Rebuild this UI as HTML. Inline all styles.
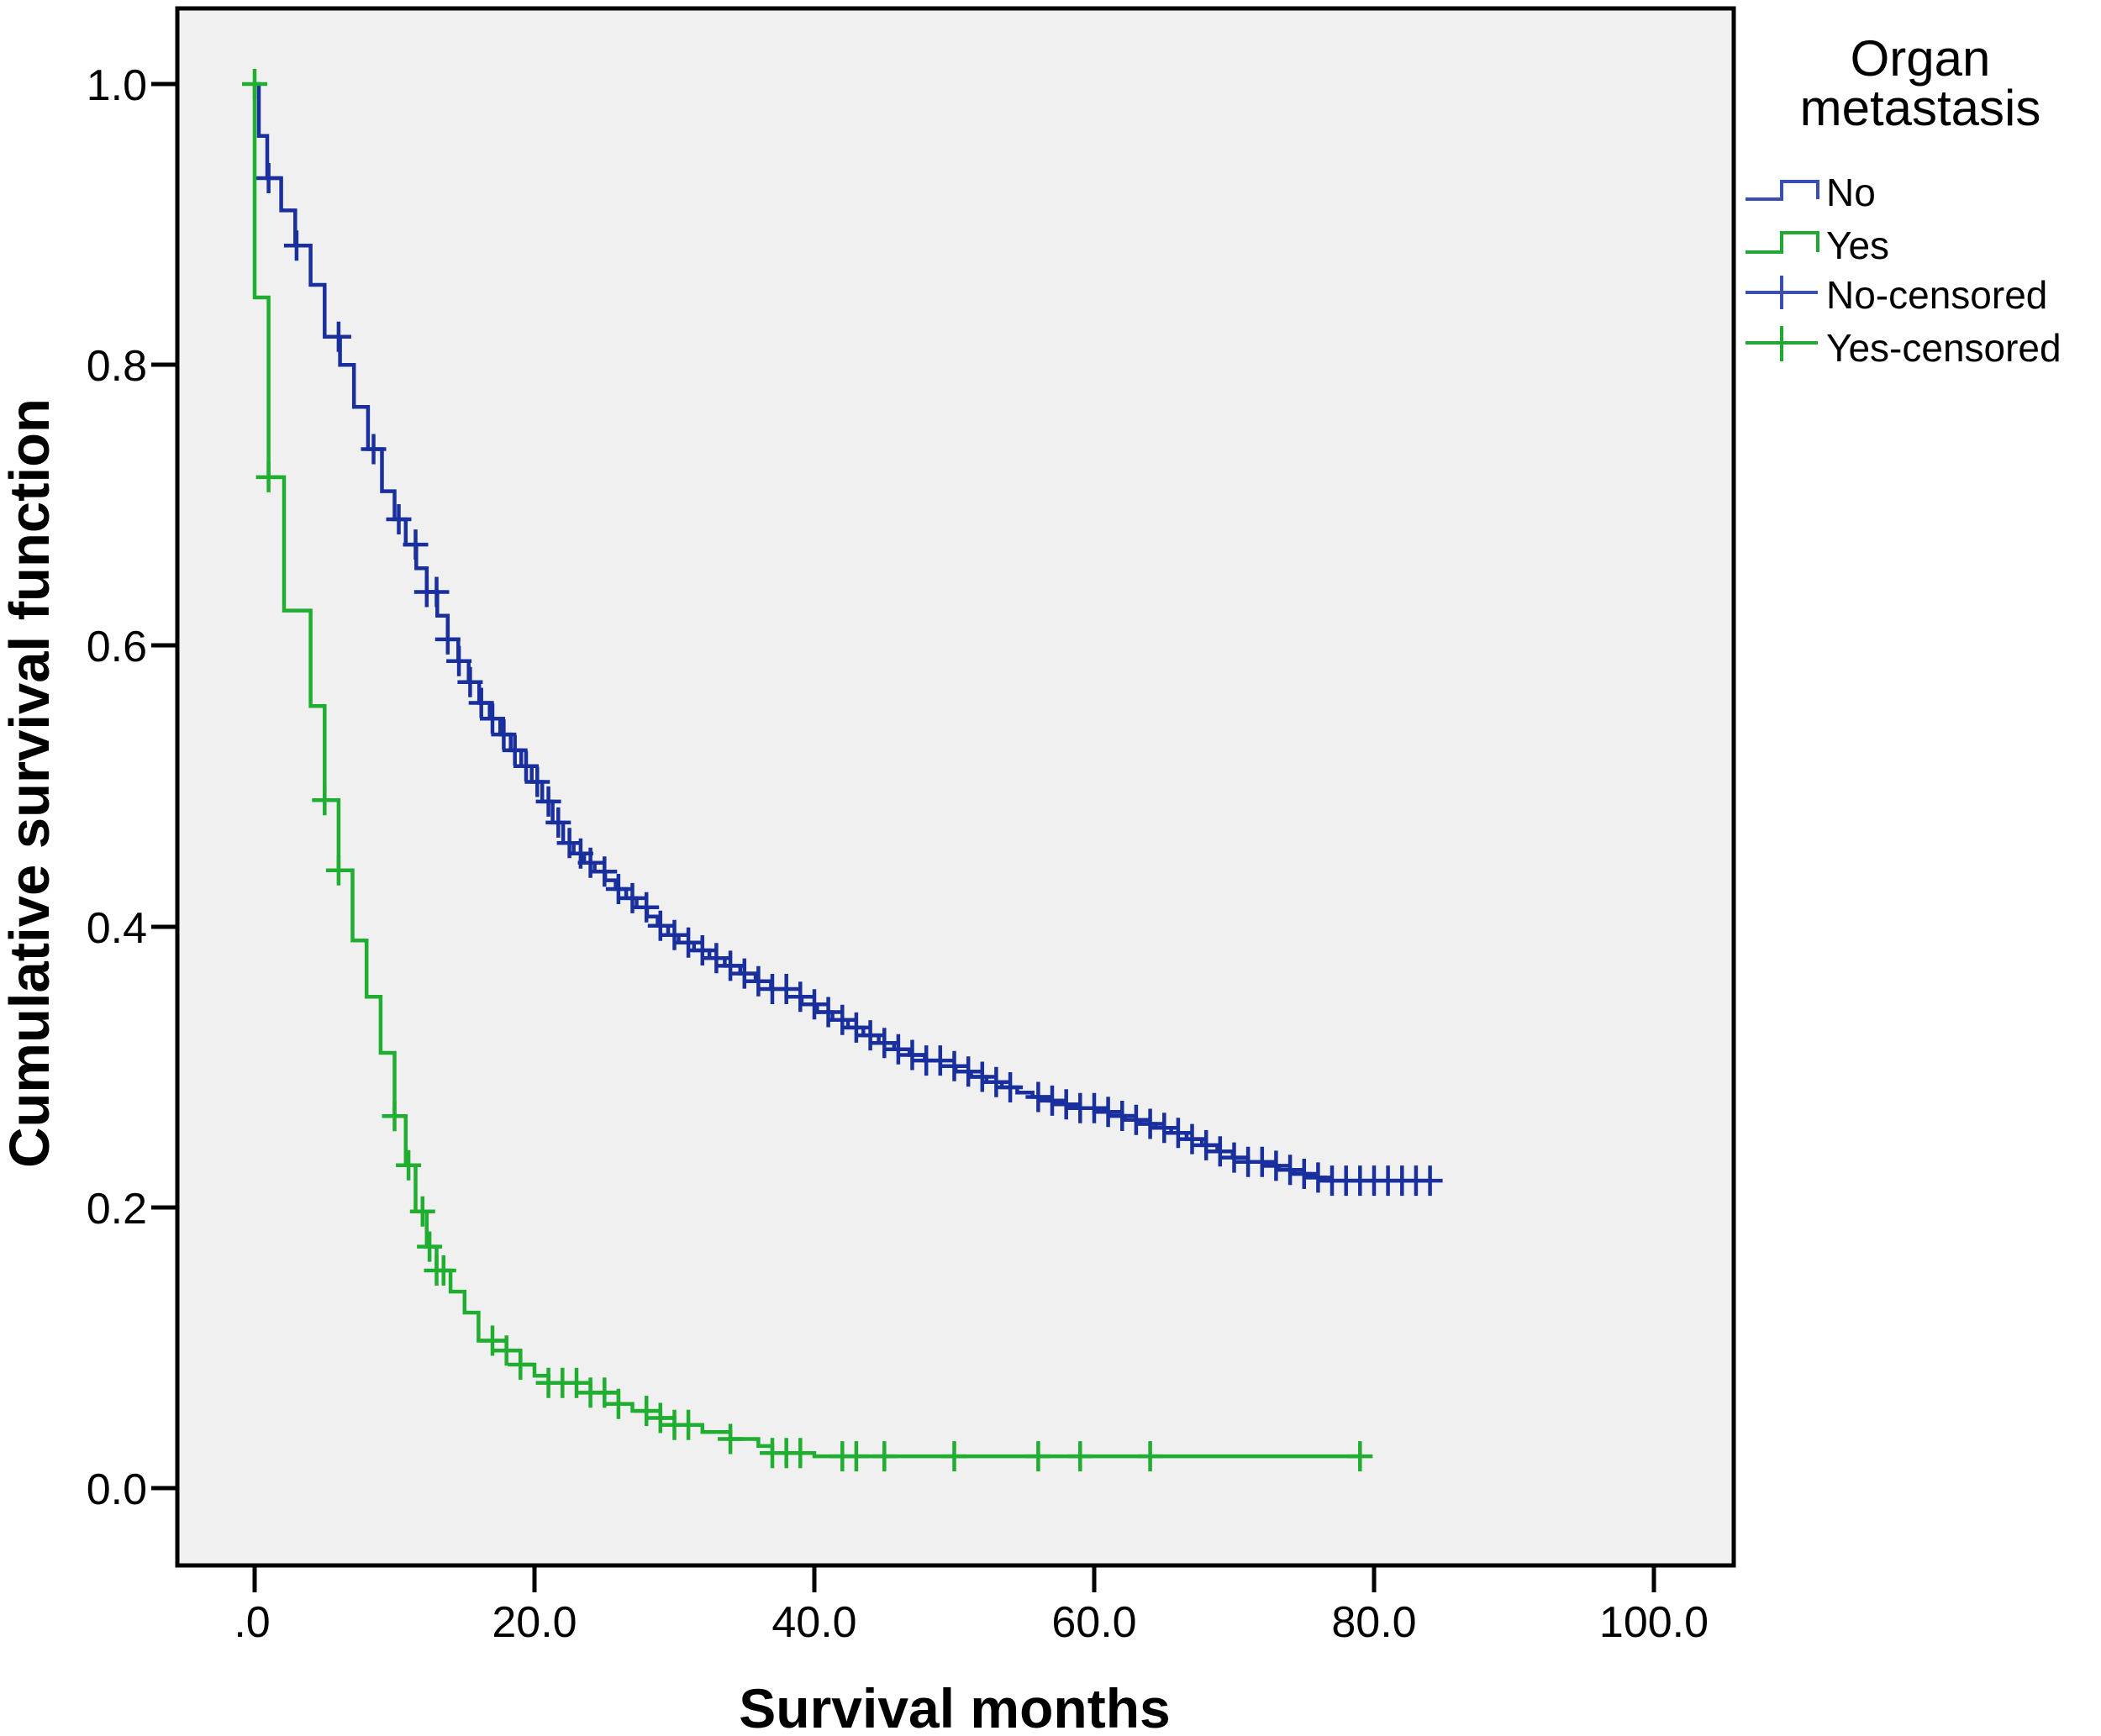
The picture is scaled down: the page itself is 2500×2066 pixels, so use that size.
<!DOCTYPE html>
<html><head><meta charset="utf-8">
<style>
html,body{margin:0;padding:0;background:#fff;}
svg{display:block;}
text{font-family:"Liberation Sans",Arial,sans-serif;fill:#000;}
</style></head>
<body>
<svg id="s" width="2500" height="2066" xmlns="http://www.w3.org/2000/svg">
<rect x="211" y="10" width="1852" height="1853" fill="#f0f0f0" stroke="#000" stroke-width="5"/>
<g stroke="#000" stroke-width="5">
<line x1="180" y1="100" x2="211" y2="100"/>
<line x1="180" y1="434" x2="211" y2="434"/>
<line x1="180" y1="768" x2="211" y2="768"/>
<line x1="180" y1="1103" x2="211" y2="1103"/>
<line x1="180" y1="1437" x2="211" y2="1437"/>
<line x1="180" y1="1771" x2="211" y2="1771"/>
<line x1="303" y1="1863" x2="303" y2="1895"/>
<line x1="636" y1="1863" x2="636" y2="1895"/>
<line x1="969" y1="1863" x2="969" y2="1895"/>
<line x1="1302" y1="1863" x2="1302" y2="1895"/>
<line x1="1635" y1="1863" x2="1635" y2="1895"/>
<line x1="1968" y1="1863" x2="1968" y2="1895"/>
</g>
<g font-size="52" text-anchor="end">
<text x="175" y="119">1.0</text>
<text x="175" y="453">0.8</text>
<text x="175" y="787">0.6</text>
<text x="175" y="1122">0.4</text>
<text x="175" y="1456">0.2</text>
<text x="175" y="1790">0.0</text>
</g>
<g font-size="52" text-anchor="middle">
<text x="300" y="1948">.0</text>
<text x="636" y="1948">20.0</text>
<text x="969" y="1948">40.0</text>
<text x="1302" y="1948">60.0</text>
<text x="1635" y="1948">80.0</text>
<text x="1968" y="1948">100.0</text>
</g>
<text x="1136" y="2056" font-size="66" font-weight="bold" text-anchor="middle">Survival months</text>
<text transform="translate(58,932) rotate(-90)" font-size="67" font-weight="bold" text-anchor="middle">Cumulative survival function</text>
<g text-anchor="middle" font-size="60">
<text x="2285" y="90">Organ</text>
<text x="2285" y="149">metastasis</text>
</g>
<g font-size="46">
<text x="2173" y="245">No</text>
<text x="2173" y="308">Yes</text>
<text x="2173" y="367">No-censored</text>
<text x="2173" y="430">Yes-censored</text>
</g>
<g fill="none" stroke-width="4">
<path d="M2077 237 H2120 V216 H2163 V237" stroke="#3a4fb0"/>
<path d="M2077 300 H2120 V277 H2163 V300" stroke="#22a832"/>
<path d="M2077 348 H2163 M2120 328 V368" stroke="#3a4fb0"/>
<path d="M2077 408 H2163 M2120 388 V430" stroke="#22a832"/>
</g>
<g id="curves"></g>
</svg>
<script>
(function(){
var X=function(t){return 303+t*16.65;}, Y=function(s){return 1771-s*1671;};
function interp(k,t){for(var i=1;i<k.length;i++){if(t<=k[i][0]){var a=k[i-1],b=k[i];return a[1]+(b[1]-a[1])*(t-a[0])/(b[0]-a[0]);}}return k[k.length-1][1];}
function build(steps,end,col,cens){
  var d="M"+X(0)+" "+Y(1);
  for(var i=0;i<steps.length;i++){var t=steps[i][0],s=steps[i][1];d+=" H"+X(t).toFixed(1)+" V"+Y(s).toFixed(1);}
  d+=" H"+X(end).toFixed(1);
  var g=document.getElementById('curves');
  var p=document.createElementNS("http://www.w3.org/2000/svg","path");
  p.setAttribute("d",d);p.setAttribute("fill","none");p.setAttribute("stroke",col);p.setAttribute("stroke-width","4.5");
  g.appendChild(p);
  function val(t){if(t<=0)return 1;var v=1;for(var i=0;i<steps.length;i++){if(steps[i][0]<=t)v=steps[i][1];}return v;}
  var cd="";
  for(var j=0;j<cens.length;j++){var t=cens[j],x=X(t),y=Y(val(t));cd+="M"+(x-15).toFixed(1)+" "+y.toFixed(1)+" h30 M"+x.toFixed(1)+" "+(y-18).toFixed(1)+" v36 ";}
  var c=document.createElementNS("http://www.w3.org/2000/svg","path");
  c.setAttribute("d",cd);c.setAttribute("fill","none");c.setAttribute("stroke",col);c.setAttribute("stroke-width","4.5");
  g.appendChild(c);
}
var kb=[[0,1],[0.3,0.963],[1,0.933],[2,0.91],[3,0.885],[4,0.857],[5,0.82],[6,0.80],[7,0.77],[8,0.74],[9,0.71],[10,0.69],[12,0.645],[14,0.60],[16,0.56],[18,0.53],[20,0.50],[22,0.46],[23,0.45],[26,0.425],[30,0.39],[35,0.365],[40,0.34],[45,0.315],[50,0.297],[55,0.28],[60,0.268],[65,0.255],[70,0.235],[75,0.222],[77,0.218],[84,0.218]];
var sb=[[0.3,0.963],[0.9,0.933],[1.9,0.91],[2.9,0.885],[4,0.857],[5,0.82],[6.1,0.80],[7.1,0.77],[8.1,0.74],[9.1,0.71],[10,0.69]];
for(var t=10.8;t<=77;t+=(t<30?0.75:1.1)){sb.push([t,interp(kb,t)]);}
var cb=[1,3,6,8.5,10.3,11.5,12.3,13,13.8,14.6,15.4,16.2,17,17.8,18.6,19.4,20.2,21,21.7,22.5,23.3,24,25,26,27,28,29,30,31,32,33,34,35,36,37,38,39,40,41,42,43,44,45,46,47,48,49,50,51,52,53,54,56,57,58,59,60,61,62,63,64,65,66,67,68,69,70,71,72,73,74,75,76,77,78,79,80,81,82,83,84];
build(sb,84,"#1a2f9e",cb);
var sg=[[0,0.848],[1,0.72],[2.1,0.625],[4,0.557],[5,0.49],[6,0.44],[7,0.39],[8,0.35],[9,0.31],[10,0.265],[10.8,0.23],[11.5,0.197],[12.3,0.172],[13,0.155],[14,0.14],[15,0.125],[16,0.105],[18,0.098],[19,0.088],[20,0.08],[21,0.075],[24,0.068],[26,0.06],[27,0.055],[29,0.05],[30,0.045],[32,0.04],[34,0.035],[36,0.03],[37,0.025],[40,0.0227]];
var cg=[0,1,5,6,10,11,12,12.5,13,13.5,17,18,19,21,22,23,24,25,26,28,29,30,31,34,37,38,39,42,43,45,50,56,59,64,79];
build(sg,79,"#1fae2f",cg);
})();
</script>
</body></html>
